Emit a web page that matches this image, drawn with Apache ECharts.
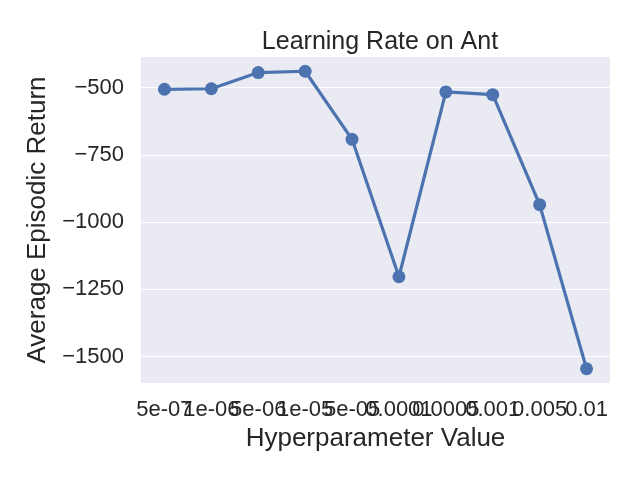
<!DOCTYPE html>
<html>
<head>
<meta charset="utf-8">
<script src="https://cdn.jsdelivr.net/npm/echarts@6/dist/echarts.min.js"></script>
<style>
  html, body { margin: 0; padding: 0; background: #fff; }
  #chart { width: 640px; height: 480px; }
</style>
</head>
<body>
<div id="chart"></div>
<script>
// values
const hyperValues = ['5e-07', '1e-06', '5e-06', '1e-05', '5e-05', '0.0001', '0.0005', '0.001', '0.005', '0.01'];
const avgReturn = [-506, -504, -444, -439, -692, -1203, -516, -526, -935, -1545];
const yTicks = [-1500, -1250, -1000, -750, -500];

const fontName = '"Liberation Sans", Arial, sans-serif';
const chart = echarts.init(document.getElementById('chart'));

chart.setOption({
  backgroundColor: '#ffffff',
  animation: false,
  title: {
    text: 'Learning Rate on Ant',
    left: 375,
    textAlign: 'center',
    top: 25,
    textStyle: { fontFamily: fontName, fontSize: 25, fontWeight: 'normal', color: '#262626' }
  },
  grid: {
    left: 141,
    right: 30,
    top: 57,
    bottom: 97,
    show: true,
    backgroundColor: '#EAEAF2',
    borderWidth: 0
  },
  xAxis: {
    type: 'category',
    data: hyperValues,
    boundaryGap: true,
    name: 'Hyperparameter Value',
    nameLocation: 'middle',
    nameGap: 43,
    nameTextStyle: { fontFamily: fontName, fontSize: 26, color: '#262626' },
    axisLine: { show: false },
    axisTick: { show: false },
    splitLine: { show: false },
    axisLabel: {
      interval: 0,
      hideOverlap: false,
      margin: 16,
      fontFamily: fontName,
      fontSize: 22,
      color: '#262626'
    }
  },
  yAxis: {
    type: 'value',
    min: -1598,
    max: -386,
    name: 'Average Episodic Return',
    nameLocation: 'middle',
    nameGap: 89,
    nameTextStyle: { fontFamily: fontName, fontSize: 26, color: '#262626' },
    axisLine: { show: false },
    axisTick: { show: false, customValues: yTicks },
    splitLine: { show: true, lineStyle: { color: '#ffffff', width: 1.2 } },
    axisLabel: {
      customValues: yTicks,
      margin: 17,
      fontFamily: fontName,
      fontSize: 22,
      color: '#262626',
      formatter: v => String(v).replace('-', '\u2212')
    }
  },
  series: [{
    type: 'line',
    data: avgReturn,
    symbol: 'circle',
    symbolSize: 13,
    itemStyle: { color: '#4C72B0' },
    lineStyle: { color: '#4C72B0', width: 3.2 }
  }]
});
</script>
</body>
</html>
